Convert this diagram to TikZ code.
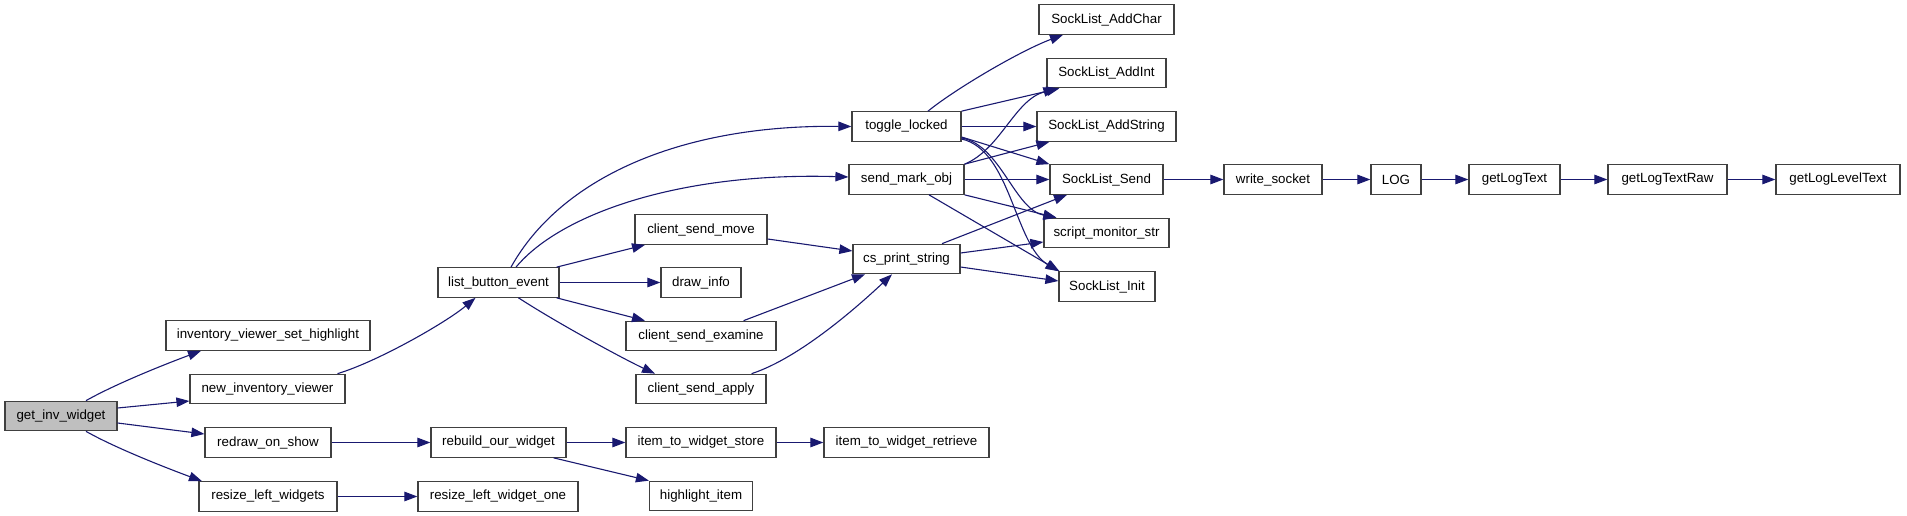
\documentclass[tikz,border=0pt]{standalone}
\usepackage{fontspec}
\setmainfont{Liberation Sans}
\usetikzlibrary{arrows.meta}
\definecolor{edgeblue}{HTML}{191970}
\definecolor{boxborder}{HTML}{404040}
\definecolor{rootfill}{HTML}{BFBFBF}
\begin{document}
\begin{tikzpicture}[x=1pt,y=-1pt,
  fn/.style={draw=boxborder, line width=1.2pt, fill=white, inner sep=0pt, minimum height=29.5pt,
    font=\fontsize{13.33}{16}\selectfont, text=black},
  root/.style={fn, fill=rootfill},
  edge/.style={draw=edgeblue, line width=1.1pt, -{Triangle[length=13pt,width=9.5pt]}}]
\useasboundingbox (0,0) rectangle (1907,516);
% column 0
\node[root, minimum width=112pt] (giw) at (61,416) {get\_inv\_widget};
% column 1
\node[fn, minimum width=204pt] (ivsh) at (268,335.5) {inventory\_viewer\_set\_highlight};
\node[fn, minimum width=155pt] (niv) at (267.5,389) {new\_inventory\_viewer};
\node[fn, minimum width=126pt] (ros) at (268,442.5) {redraw\_on\_show};
\node[fn, minimum width=138pt] (rlw) at (268,496.5) {resize\_left\_widgets};
% column 2
\node[fn, minimum width=121pt] (lbe) at (498.5,282.5) {list\_button\_event};
\node[fn, minimum width=135pt] (row) at (498.5,442.5) {rebuild\_our\_widget};
\node[fn, minimum width=160pt] (rlwo) at (498,496.5) {resize\_left\_widget\_one};
% column 3
\node[fn, minimum width=132pt] (csm) at (701,229.5) {client\_send\_move};
\node[fn, minimum width=80pt] (di) at (701,282.5) {draw\_info};
\node[fn, minimum width=150pt] (cse) at (701,336) {client\_send\_examine};
\node[fn, minimum width=130pt] (csa) at (701,389) {client\_send\_apply};
\node[fn, minimum width=150pt] (itws) at (701,442.5) {item\_to\_widget\_store};
\node[fn, minimum width=103pt] (hi) at (701,496) {highlight\_item};
% column 4
\node[fn, minimum width=109pt] (tl) at (906.5,126.5) {toggle\_locked};
\node[fn, minimum width=115pt] (smo) at (906.5,179.5) {send\_mark\_obj};
\node[fn, minimum width=107pt] (cps) at (906.5,259) {cs\_print\_string};
\node[fn, minimum width=165pt] (itwr) at (906.5,442.5) {item\_to\_widget\_retrieve};
% column 5
\node[fn, minimum width=135pt] (sac) at (1106.5,19.5) {SockList\_AddChar};
\node[fn, minimum width=119pt] (sai) at (1106.5,73) {SockList\_AddInt};
\node[fn, minimum width=139pt] (sas) at (1106.5,126.5) {SockList\_AddString};
\node[fn, minimum width=113pt] (ss) at (1106.5,179.5) {SockList\_Send};
\node[fn, minimum width=125pt] (sms) at (1106.5,233) {script\_monitor\_str};
\node[fn, minimum width=96pt] (si) at (1107,286.5) {SockList\_Init};
% chain
\node[fn, minimum width=98pt] (ws) at (1273,179.5) {write\_socket};
\node[fn, minimum width=50pt] (log) at (1396,179.5) {LOG};
\node[fn, minimum width=91pt] (glt) at (1514.5,179.5) {getLogText};
\node[fn, minimum width=119pt] (gltr) at (1667.5,179.5) {getLogTextRaw};
\node[fn, minimum width=124pt] (gllt) at (1838,179.5) {getLogLevelText};

% edges from get_inv_widget
\draw[edge] ([xshift=25pt]giw.north) .. controls +(30,-17) and +(-35,13) .. ([xshift=-67pt]ivsh.south);
\draw[edge] ([yshift=8pt]giw.east) -- ([yshift=-12pt]niv.west);
\draw[edge] ([yshift=-7pt]giw.east) -- ([yshift=8.5pt]ros.west);
\draw[edge] ([xshift=25pt]giw.south) .. controls +(30,17) and +(-35,-13) .. ([xshift=-66pt]rlw.north);
% column 1 -> 2
\draw[edge] ([xshift=70pt]niv.north) .. controls +(40,-12) and +(-30,25) .. ([xshift=-23pt]lbe.south);
\draw[edge] (ros.east) -- (row.west);
\draw[edge] (rlw.east) -- (rlwo.west);
% list_button_event
\draw[edge] ([xshift=12.5pt]lbe.north) .. controls +(49,-88) and +(-173,-2) .. (tl.west);
\draw[edge] ([xshift=17.5pt]lbe.north) .. controls +(44,-53) and +(-169,-5) .. ([yshift=2.5pt]smo.west);
\draw[edge] ([xshift=-3pt]lbe.north east) -- ([xshift=-56pt]csm.south);
\draw[edge] (lbe.east) -- (di.west);
\draw[edge] ([xshift=-3pt]lbe.south east) -- ([xshift=-56pt]cse.north);
\draw[edge] ([xshift=20pt]lbe.south) .. controls +(40,26) and +(-30,-14) .. ([xshift=-46pt]csa.north);
% to cs_print_string
\draw[edge] ([yshift=-9.5pt]csm.east) -- ([yshift=8pt]cps.west);
\draw[edge] ([xshift=-33pt]cse.north east) -- ([xshift=-41.5pt]cps.south);
\draw[edge] ([xshift=-15pt]csa.north east) .. controls +(49,-16) and +(-32,30) .. ([xshift=-14.5pt]cps.south);
% rebuild_our_widget
\draw[edge] (row.east) -- (itws.west);
\draw[edge] ([xshift=-13pt]row.south east) -- (hi.north west);
\draw[edge] (itws.east) -- (itwr.west);
% toggle_locked
\draw[edge] ([xshift=21.5pt]tl.north) .. controls +(27,-22) and +(-43,16) .. ([xshift=-43.5pt]sac.south);
\draw[edge] (tl.north east) -- ([xshift=13pt]sai.south west);
\draw[edge] (tl.east) -- (sas.west);
\draw[edge] ([yshift=-10.5pt]tl.east) -- (ss.north west);
\draw[edge] ([yshift=-11.5pt]tl.east) .. controls +(39,7) and +(-42,-8) .. ([xshift=13pt]sms.north west);
\draw[edge] ([yshift=-12.5pt]tl.east) .. controls +(49,11) and +(-44,-27) .. (si.north west);
% send_mark_obj
\draw[edge] (smo.north east) .. controls +(36,-15) and +(-42,12) .. ([xshift=10pt]sai.south west);
\draw[edge] (smo.north east) -- ([xshift=13pt]sas.south west);
\draw[edge] (smo.east) -- (ss.west);
\draw[edge] (smo.south east) -- ([xshift=13pt]sms.north west);
\draw[edge] ([xshift=22.5pt]smo.south) -- ([xshift=1pt]si.north west);
% cs_print_string
\draw[edge] ([xshift=35.5pt]cps.north) -- ([xshift=-39.5pt]ss.south);
\draw[edge] ([yshift=6pt]cps.east) -- ([yshift=-9pt]sms.west);
\draw[edge] ([yshift=-8pt]cps.east) -- ([yshift=5.5pt]si.west);
% chain
\draw[edge] (ss.east) -- (ws.west);
\draw[edge] (ws.east) -- (log.west);
\draw[edge] (log.east) -- (glt.west);
\draw[edge] (glt.east) -- (gltr.west);
\draw[edge] (gltr.east) -- (gllt.west);
\end{tikzpicture}
\end{document}
